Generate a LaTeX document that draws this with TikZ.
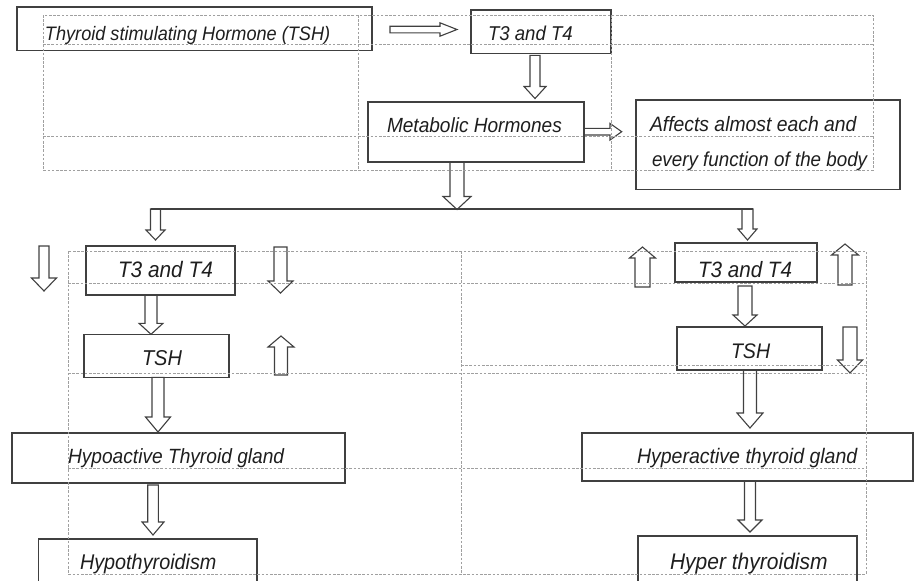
\documentclass[tikz,border=0pt]{standalone}
\usepackage{fontspec}
\setmainfont{Liberation Sans}[FakeStretch=0.93]
\usetikzlibrary{calc}
\definecolor{boxc}{HTML}{404040}
\definecolor{txtc}{HTML}{1E1E1E}
\definecolor{gridc}{HTML}{A0A0A0}
\tikzset{
  boxnode/.style={draw=boxc, line width=1.3pt, inner sep=0pt, outer sep=0pt},
  txt/.style={anchor=base west, inner sep=0pt, outer sep=0pt, text=txtc},
  gridline/.style={draw=gridc, line width=0.7pt, dash pattern=on 2.6pt off 1.6pt},
  blk/.style={draw=boxc, line width=1.1pt, line join=miter},
  link/.style={draw=boxc, line width=1.2pt}
}
% box: name, x1, y1, x2, y2
\newcommand\mybox[5]{\node[boxnode, minimum width={(#4-#2)*1pt}, minimum height={(#5-#3)*1pt}] (#1) at ({(#2+#4)/2},{(#3+#5)/2}) {};}
% vertical block arrow: x, start point, tip point, head length (signed, picture units), shaft half, head half
\newcommand\vblk[6]{%
  \draw[blk] let \p1=(#2), \p2=(#3), \n1={\y2+(#4)*1pt} in
    ({(#1-#5)*1pt},\y1) -- ({(#1+#5)*1pt},\y1) -- ({(#1+#5)*1pt},\n1) -- ({(#1+#6)*1pt},\n1)
    -- ({(#1)*1pt},\y2) -- ({(#1-#6)*1pt},\n1) -- ({(#1-#5)*1pt},\n1) -- cycle;}
% horizontal block arrow (rightwards): y, start point, tip point, head length, shaft half, head half
\newcommand\hblk[6]{%
  \draw[blk] let \p1=(#2), \p2=(#3), \n1={\x2-(#4)*1pt} in
    (\x1,{-(#1-#5)*1pt}) -- (\n1,{-(#1-#5)*1pt}) -- (\n1,{-(#1-#6)*1pt}) -- (\x2,{-(#1)*1pt})
    -- (\n1,{-(#1+#6)*1pt}) -- (\n1,{-(#1+#5)*1pt}) -- (\x1,{-(#1+#5)*1pt}) -- cycle;}
\newcommand\fz[1]{\fontsize{#1}{#1}\selectfont\itshape}
\begin{document}
\begin{tikzpicture}[x=1pt,y=-1pt]
\path[use as bounding box] (0,0) rectangle (914,581);
\clip (0,0) rectangle (914,581);

% ---------- boxes ----------
\mybox{tsh}{17}{7}{372}{50.5}
\mybox{t34top}{471}{10}{611}{53.3}
\mybox{met}{368}{102}{584}{162}
\mybox{aff}{636}{100}{900}{189.5}
\mybox{lt34}{86}{246}{235}{295}
\mybox{ltsh}{84}{334.3}{229}{377.3}
\mybox{hypo}{12}{433}{345}{483}
\mybox{hypoth}{38.5}{539}{257}{610}
\mybox{rt34}{675}{243}{817}{282}
\mybox{rtsh}{677}{327}{822}{370}
\mybox{hyper}{582}{433}{913}{481}
\mybox{hyperth}{638}{536}{857}{610}

% ---------- texts ----------
\node[txt, font=\fz{19.5}] (x1) at (45,40.7) {Thyroid stimulating Hormone (TSH)};
\node[txt, font=\fz{20}] (x2) at (488,40.7) {T3 and T4};
\node[txt, font=\fz{20.5}] (x3) at (387,132) {Metabolic Hormones};
\node[txt, font=\fz{20.8}] (x4) at (650,131.7) {Affects almost each and};
\node[txt, font=\fz{20.2}] (x5) at (652,166.7) {every function of the body};
\node[txt, font=\fz{22.4}] (x6) at (118,277.3) {T3 and T4};
\node[txt, font=\fz{21.5}] (x7) at (142,365) {TSH};
\node[txt, font=\fz{20.6}] (x8) at (68,463.3) {Hypoactive Thyroid gland};
\node[txt, font=\fz{21.3}] (x9) at (80,569) {Hypothyroidism};
\node[txt, font=\fz{22.2}] (x10) at (698,277.3) {T3 and T4};
\node[txt, font=\fz{21.1}] (x11) at (731,358.3) {TSH};
\node[txt, font=\fz{21}] (x12) at (637,463.3) {Hyperactive thyroid gland};
\node[txt, font=\fz{22.6}] (x13) at (670,569.3) {Hyper thyroidism};

% ---------- branch line ----------
\coordinate (brL) at (150.5,209);
\coordinate (brM) at (457,209.5);
\coordinate (brR) at (753,209);
\draw[link] (brL) -- (brR);

% ---------- connecting block arrows ----------
\hblk{29.5}{$(tsh.east)+(18,0)$}{$(t34top.west)+(-14,0)$}{17}{3.3}{6.7}
\vblk{535}{$(t34top.south)+(0,2)$}{$(met.north)+(0,-3.5)$}{12}{5}{11}
\hblk{131.7}{met.east}{$(aff.west)+(-14.3,0)$}{11.7}{3.3}{8.3}
\vblk{457}{met.south}{brM}{13}{7}{14}
\vblk{155.5}{brL}{$(lt34.north)+(0,-6)$}{10}{5}{9.5}
\vblk{747.5}{brR}{$(rt34.north)+(0,-3)$}{11}{5.5}{9.5}
\vblk{151}{lt34.south}{ltsh.north}{11}{6}{12}
\vblk{158}{ltsh.south}{$(hypo.north)+(0,-1)$}{15}{6}{12.5}
\vblk{153}{$(hypo.south)+(0,2)$}{$(hypoth.north)+(0,-4)$}{13}{5.3}{11}
\vblk{745}{$(rt34.south)+(0,4)$}{$(rtsh.north)+(0,-1)$}{11}{7}{12}
\vblk{750}{rtsh.south}{$(hyper.north)+(0,-5)$}{15}{6.5}{13}
\vblk{750}{hyper.south}{$(hyperth.north)+(0,-4)$}{12}{5.5}{12}

% ---------- indicator block arrows ----------
\vblk{44}{0,246}{0,291}{13}{5}{12.5}
\vblk{280.5}{0,247}{0,293}{12}{6.5}{12.5}
\vblk{281}{0,375}{0,336}{-11}{6.5}{13}
\vblk{642.5}{0,287}{0,247}{-11}{7.5}{13}
\vblk{845}{0,285}{0,244}{-11}{7}{13.5}
\vblk{850}{0,327}{0,373}{13}{7}{12.5}

% ---------- dashed table grid ----------
\draw[gridline] (43,15) rectangle (873,170);
\draw[gridline] (43,44) -- (873,44);
\draw[gridline] (43,136) -- (873,136);
\draw[gridline] (358,15) -- (358,170);
\draw[gridline] (611,15) -- (611,170);
\draw[gridline] (68,251) rectangle (866,574);
\draw[gridline] (68,283) -- (866,283);
\draw[gridline] (461,365) -- (866,365);
\draw[gridline] (68,373) -- (866,373);
\draw[gridline] (68,468) -- (866,468);
\draw[gridline] (461,251) -- (461,574);
\end{tikzpicture}
\end{document}
